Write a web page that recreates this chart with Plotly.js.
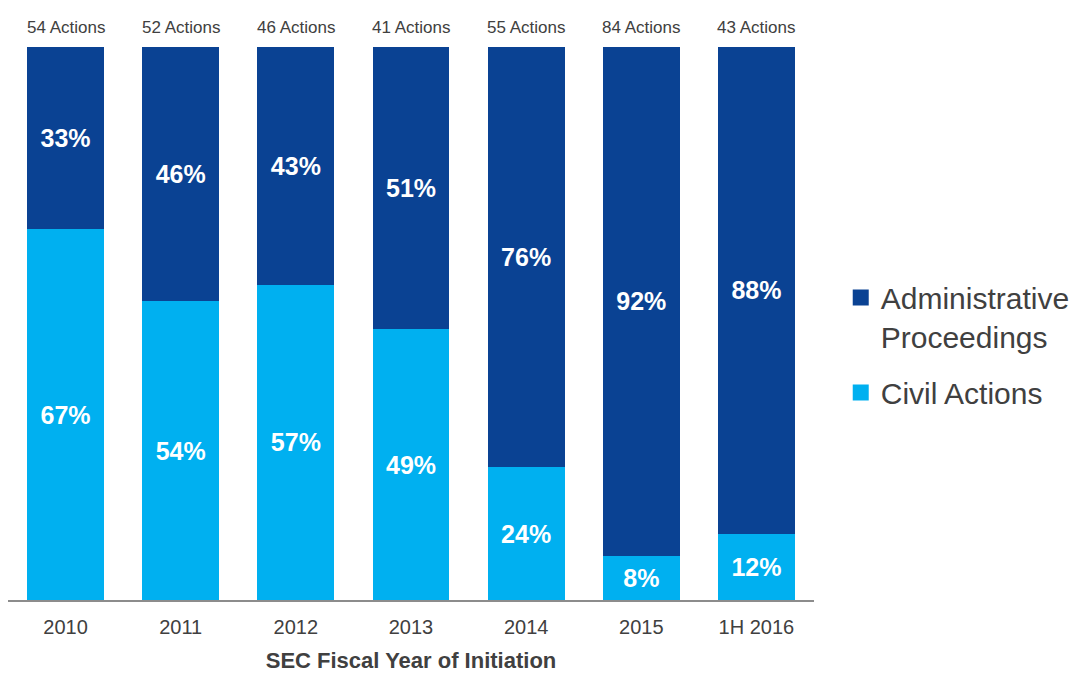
<!DOCTYPE html>
<html>
<head>
<meta charset="utf-8">
<script src="https://cdn.plot.ly/plotly-3.0.1.min.js"></script>
<style>html,body{margin:0;padding:0;background:#fff;}#chart{width:1071px;height:673px;}</style>
</head>
<body>
<div id="chart"></div>
<script>
const categories = ["2010", "2011", "2012", "2013", "2014", "2015", "1H 2016"];
const civilActions = [67, 54, 57, 49, 24, 8, 12];
const adminProceedings = [33, 46, 43, 51, 76, 92, 88];
const actionCounts = ["54 Actions", "52 Actions", "46 Actions", "41 Actions", "55 Actions", "84 Actions", "43 Actions"];

const positions = categories.map((c, i) => i);
const sans = "Liberation Sans, Arial, sans-serif";
const pctFont = {family: sans, size: 25, color: "#ffffff"};
const darkBlue = "#0a4293";
const lightBlue = "#00b0f0";

const traces = [
  {
    type: "bar", name: "Civil Actions", x: positions, y: civilActions,
    marker: {color: lightBlue}, showlegend: false,
    text: civilActions.map(v => "<b>" + v + "%</b>"), textposition: "inside",
    insidetextanchor: "middle", textfont: pctFont, hoverinfo: "y"
  },
  {
    type: "bar", name: "Administrative Proceedings", x: positions, y: adminProceedings,
    marker: {color: darkBlue}, showlegend: false,
    text: adminProceedings.map(v => "<b>" + v + "%</b>"), textposition: "inside",
    insidetextanchor: "middle", textfont: pctFont, hoverinfo: "y"
  },
  {
    type: "scatter", mode: "markers", name: "Administrative<br>Proceedings", x: [null], y: [null],
    marker: {color: darkBlue, symbol: "square", size: 16}, legendgroup: "a", legendrank: 1
  },
  {
    type: "scatter", mode: "markers", name: "Civil Actions", x: [null], y: [null],
    marker: {color: lightBlue, symbol: "square", size: 16}, legendgroup: "b", legendrank: 2
  }
];

const annotations = categories.map((c, i) => ({
  x: i, y: 1, xref: "x", yref: "paper", yanchor: "bottom", yshift: 8,
  text: actionCounts[i], showarrow: false,
  font: {family: sans, size: 17, color: "#404040"}
}));

const layout = {
  width: 1071, height: 673,
  margin: {l: 8, r: 257, t: 47, b: 73},
  paper_bgcolor: "#ffffff", plot_bgcolor: "#ffffff",
  barmode: "stack", bargap: 0.333,
  xaxis: {
    type: "linear", range: [-0.5, 6.5], tickmode: "array", tickvals: positions, ticktext: categories,
    showgrid: false, zeroline: false, automargin: false,
    showline: true, linecolor: "#8c8c8c", linewidth: 1.5,
    ticks: "", ticklabelstandoff: 8, tickfont: {family: sans, size: 20, color: "#404040"},
    title: {text: "<b>SEC Fiscal Year of Initiation</b>", font: {family: sans, size: 22, color: "#404040"}, standoff: 17}
  },
  yaxis: {range: [0, 100], visible: false, fixedrange: true},
  showlegend: true,
  legend: {
    xref: "container", x: 0.785, xanchor: "left", y: 0.461, yanchor: "middle", valign: "top",
    font: {family: sans, size: 30, color: "#404040"},
    traceorder: "grouped", tracegroupgap: 14
  },
  annotations: annotations
};

Plotly.newPlot("chart", traces, layout, {displayModeBar: false, staticPlot: true});
</script>
</body>
</html>
